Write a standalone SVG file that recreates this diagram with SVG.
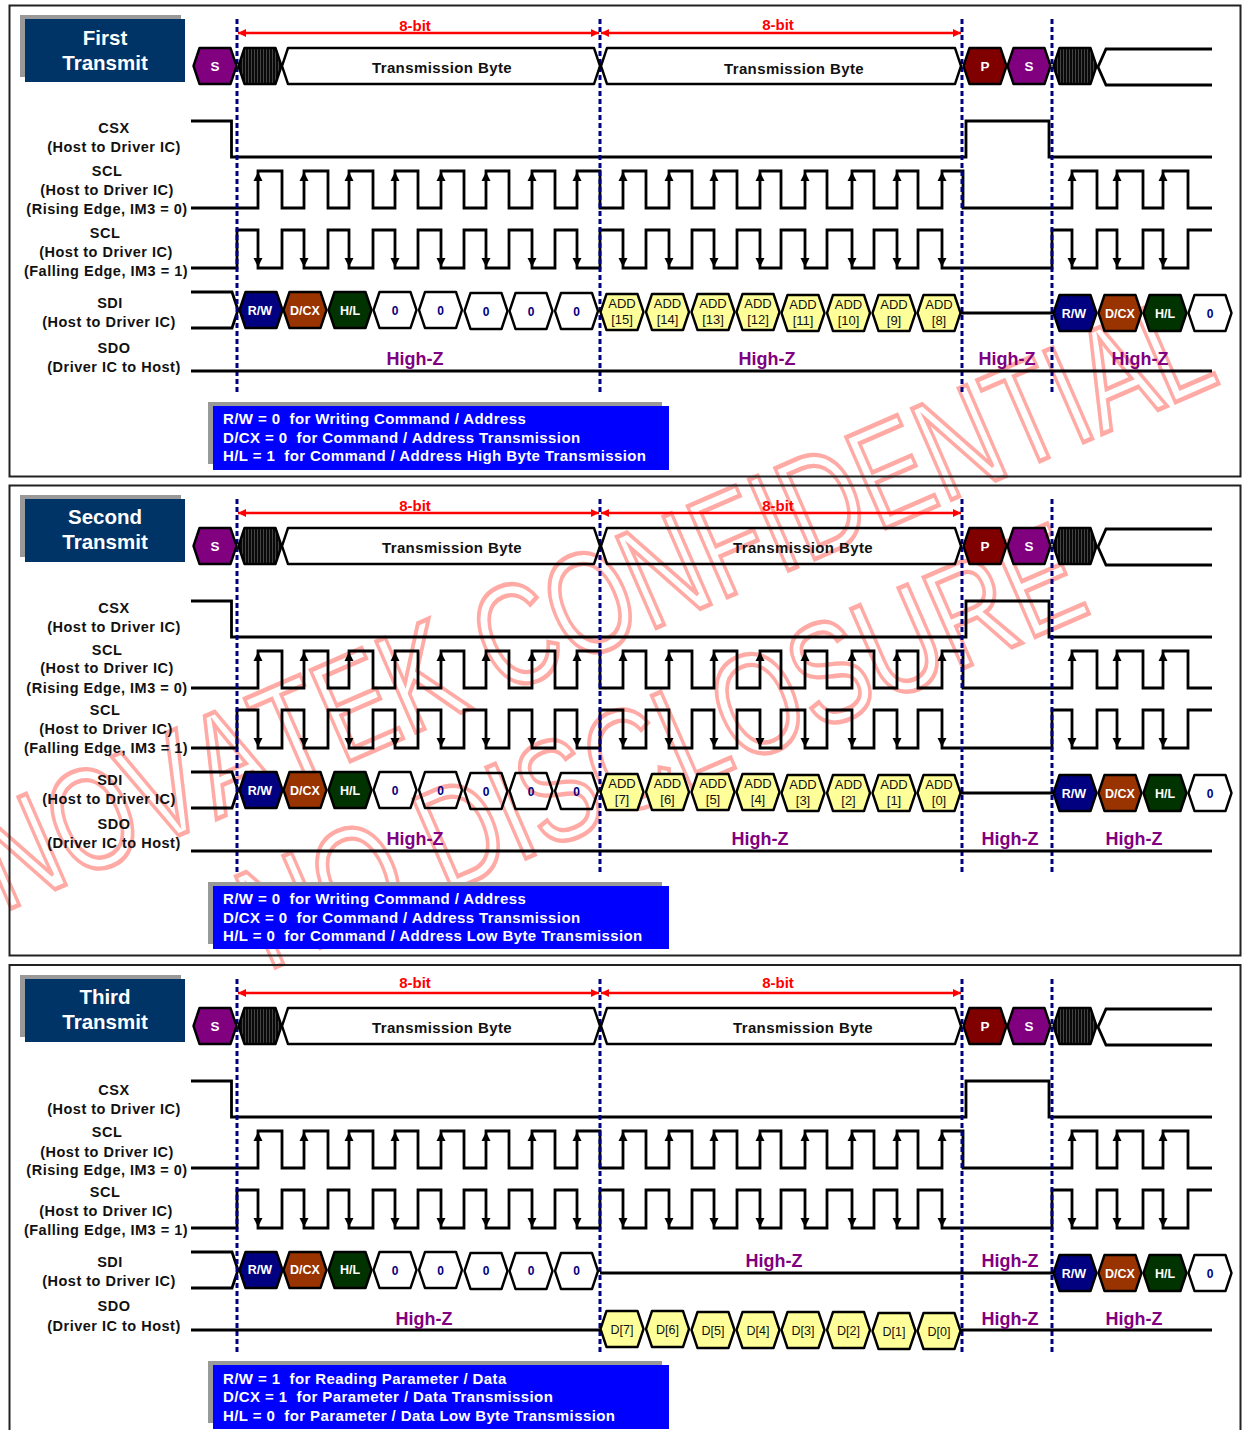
<svg xmlns="http://www.w3.org/2000/svg" width="1243" height="1430" viewBox="0 0 1243 1430">
<style>
text{font-family:"Liberation Sans",Arial,sans-serif;text-anchor:middle;white-space:pre;stroke:none}
.frame{fill:none;stroke:#222;stroke-width:2}
text.wm{font-size:144px;fill:none;stroke:#ffaaa4;stroke-width:4;vector-effect:non-scaling-stroke;text-anchor:start;font-kerning:none}
.w{fill:none;stroke:#000;stroke-width:2.8;stroke-linejoin:miter}
.dash{stroke:#000080;stroke-width:3;stroke-dasharray:5 3;fill:none}
.red{stroke:#f00;stroke-width:2.5;fill:none;marker-start:url(#rh);marker-end:url(#rh)}
.h{stroke:#000;stroke-width:2.4;stroke-linejoin:round}
.pu{fill:#800080}.ma{fill:#800000}.ha{fill:url(#hatch)}.na{fill:#000080}.br{fill:#993300}.gr{fill:#003300}.no{fill:none}.ye{fill:#ffff99}
.l{font-size:14.5px;font-weight:700;fill:#111;letter-spacing:.5px}
.t{font-size:15px;font-weight:700;fill:#111;letter-spacing:.4px}
.b{font-size:15px;font-weight:700;fill:#f00}
.z{font-size:18px;font-weight:700;fill:#800080}
.tt{font-size:20.5px;font-weight:700;fill:#fff}
.n{font-size:13.5px;font-weight:700;fill:#fff}
.c{font-size:12.5px;font-weight:700;fill:#fff}
.o{font-size:12px;font-weight:700;fill:#000080}
.a{font-size:13px;fill:#111}
.d{font-size:12.5px;fill:#111}
.i{font-size:15px;font-weight:700;fill:#fff;text-anchor:start;letter-spacing:.4px}
.gb{fill:#999}.tb{fill:#003366}.bb{fill:#00f}
</style>
<defs>
<pattern id="hatch" width="3" height="10" patternUnits="userSpaceOnUse"><rect width="3" height="10" fill="#0a0a0a"/><rect width="1" height="10" fill="#444"/></pattern>
<marker id="rh" viewBox="0 0 8 8" refX="8" refY="4" markerWidth="8" markerHeight="8" markerUnits="userSpaceOnUse" orient="auto-start-reverse"><path d="M0 0L8 4L0 8Z" fill="#f00"/></marker>
<polygon id="hx" points="-21.5,0 -15.5,-18 15.5,-18 21.5,0 15.5,18 -15.5,18"/>
<path id="au" d="M0 0L-4.5 9H4.5Z"/>
<path id="ad" d="M0 0L-4.5 -9H4.5Z"/>
<g id="waves">
<path class="w" d="M191 121H231.500V157H966V121H1049V157H1212"/>
<path class="w" d="M191 208H258V171H282V208H304V171H328V208H349V171H373V208H395V171H418V208H441V171H464V208H486V171H509V208H532V171H555V208H577V171H600V208H623V171H646V208H669V171H692V208H714V171H737V208H760V171H781V208H805V171H827V208H852V171H874V208H897V171H918V208H942V171H963V208H1072V171H1097V208H1117V171H1143V208H1163V171H1188V208H1212"/>
<path class="w" d="M191 268H237V230H258V268H282V230H304V268H328V230H349V268H373V230H395V268H418V230H441V268H464V230H486V268H509V230H532V268H555V230H577V268H600V230H623V268H646V230H669V268H692V230H714V268H737V230H760V268H781V230H805V268H827V230H852V268H874V230H897V268H918V230H942V268H1052V230H1072V268H1097V230H1117V268H1143V230H1163V268H1188V230H1212"/>
<path class="w" d="M1212 49H1106L1098 67L1106 85H1212"/>
<g id="ups"><use href="#au" x="258" y="172"/><use href="#au" x="304" y="172"/><use href="#au" x="349" y="172"/><use href="#au" x="395" y="172"/><use href="#au" x="441" y="172"/><use href="#au" x="486" y="172"/><use href="#au" x="532" y="172"/><use href="#au" x="577" y="172"/><use href="#au" x="623" y="172"/><use href="#au" x="669" y="172"/><use href="#au" x="714" y="172"/><use href="#au" x="760" y="172"/><use href="#au" x="805" y="172"/><use href="#au" x="852" y="172"/><use href="#au" x="897" y="172"/><use href="#au" x="942" y="172"/><use href="#au" x="1072" y="172"/><use href="#au" x="1117" y="172"/><use href="#au" x="1163" y="172"/></g>
<g id="downs"><use href="#ad" x="258" y="267"/><use href="#ad" x="304" y="267"/><use href="#ad" x="349" y="267"/><use href="#ad" x="395" y="267"/><use href="#ad" x="441" y="267"/><use href="#ad" x="486" y="267"/><use href="#ad" x="532" y="267"/><use href="#ad" x="577" y="267"/><use href="#ad" x="623" y="267"/><use href="#ad" x="669" y="267"/><use href="#ad" x="714" y="267"/><use href="#ad" x="760" y="267"/><use href="#ad" x="805" y="267"/><use href="#ad" x="852" y="267"/><use href="#ad" x="897" y="267"/><use href="#ad" x="942" y="267"/><use href="#ad" x="1072" y="267"/><use href="#ad" x="1117" y="267"/><use href="#ad" x="1163" y="267"/></g>
<path class="w" d="M191 292H232L238 310L232 328H191"/>
<line class="red" x1="238" y1="33" x2="599" y2="33"/>
<line class="red" x1="601" y1="33" x2="961" y2="33"/>
</g>
<g id="dashes"><path class="dash" d="M237 19V392M600 19V392M962 19V392M1052 19V392"/></g>
</defs>
<rect width="1243" height="1430" fill="#fff"/>
<g id="watermark">
<text class="wm" transform="translate(3 912) rotate(-23.500) scale(.745 1)">NOVATEK CONFIDENTIAL</text>
<text class="wm" transform="translate(267 971) rotate(-23.500) scale(.756 1)">NO DISCLOSURE</text>
</g>
<g id="frames">
<rect class="frame" x="9.500" y="5.500" width="1231" height="471"/>
<rect class="frame" x="9.500" y="485.500" width="1231" height="470"/>
<rect class="frame" x="9.500" y="965" width="1231" height="480"/>
</g>
<g id="connectors">
<use href="#waves"/>
<use href="#waves" transform="translate(0 480)"/>
<use href="#waves" transform="translate(0 960)"/>
<use href="#dashes"/>
<use href="#dashes" transform="translate(0 480)"/>
<use href="#dashes" transform="translate(0 960)"/>
<path class="w" d="M961 313H1054M191 371H1212"/>
<path class="w" d="M961 793H1054M191 851H1212"/>
<path class="w" d="M600 1273H1054M191 1330H602M961 1330H1212"/>
</g>

<g id="p1-title"><rect class="gb" x="20" y="15" width="161" height="62"/><rect class="tb" x="25" y="19" width="160" height="63"/><text class="tt" x="105" y="45">First</text><text class="tt" x="105" y="70">Transmit</text></g>
<g id="p1-bit1"><text class="b" x="415" y="31">8-bit</text></g>
<g id="p1-bit2"><text class="b" x="778" y="30">8-bit</text></g>
<g id="p1-s1" class="h pu"><use href="#hx" x="215" y="66"/><text class="n" x="215" y="71">S</text></g>
<g id="p1-x1" class="h ha"><use href="#hx" x="260" y="66"/></g>
<g id="p1-byte1"><polygon class="h no" points="282,66 288,48 594,48 600,66 594,84 288,84"/><text class="t" x="442" y="73">Transmission Byte</text></g>
<g id="p1-byte2"><polygon class="h no" points="601,66 607,48 955,48 961,66 955,84 607,84"/><text class="t" x="794" y="74">Transmission Byte</text></g>
<g id="p1-p" class="h ma"><use href="#hx" x="985" y="66"/><text class="n" x="985" y="71">P</text></g>
<g id="p1-s2" class="h pu"><use href="#hx" x="1029" y="66"/><text class="n" x="1029" y="71">S</text></g>
<g id="p1-x2" class="h ha"><use href="#hx" x="1075" y="66"/></g>
<g id="p1-labels">
<text class="l" x="114" y="133">CSX</text><text class="l" x="114" y="152">(Host to Driver IC)</text>
<text class="l" x="107" y="176">SCL</text><text class="l" x="107" y="195">(Host to Driver IC)</text><text class="l" x="107" y="214">(Rising Edge, IM3 = 0)</text>
<text class="l" x="105" y="238">SCL</text><text class="l" x="106" y="257">(Host to Driver IC)</text><text class="l" x="106" y="276">(Falling Edge, IM3 = 1)</text>
<text class="l" x="110" y="308">SDI</text><text class="l" x="109" y="327">(Host to Driver IC)</text>
<text class="l" x="114" y="353">SDO</text><text class="l" x="114" y="372">(Driver IC to Host)</text>
</g>
<g id="p1-rw" class="h na"><use href="#hx" x="261" y="310"/><text class="c" x="260" y="315">R/W</text></g>
<g id="p1-dcx" class="h br"><use href="#hx" x="305" y="310"/><text class="c" x="305" y="315">D/CX</text></g>
<g id="p1-hl" class="h gr"><use href="#hx" x="350" y="310"/><text class="c" x="350" y="315">H/L</text></g>
<g id="p1-b0" class="h no"><use href="#hx" x="395" y="310"/><text class="o" x="395" y="315">0</text></g>
<g id="p1-b1" class="h no"><use href="#hx" x="440.500" y="310"/><text class="o" x="440.500" y="315">0</text></g>
<g id="p1-b2" class="h no"><use href="#hx" x="486" y="311"/><text class="o" x="486" y="316">0</text></g>
<g id="p1-b3" class="h no"><use href="#hx" x="531" y="311"/><text class="o" x="531" y="316">0</text></g>
<g id="p1-b4" class="h no"><use href="#hx" x="576.500" y="311"/><text class="o" x="576.500" y="316">0</text></g>
<g id="p1-a15" class="h ye"><use href="#hx" x="622" y="312"/><text class="a" x="622" y="308">ADD</text><text class="a" x="622" y="324">[15]</text></g>
<g id="p1-a14" class="h ye"><use href="#hx" x="667.500" y="312"/><text class="a" x="667.500" y="308">ADD</text><text class="a" x="667.500" y="324">[14]</text></g>
<g id="p1-a13" class="h ye"><use href="#hx" x="713" y="312"/><text class="a" x="713" y="308">ADD</text><text class="a" x="713" y="324">[13]</text></g>
<g id="p1-a12" class="h ye"><use href="#hx" x="758" y="312"/><text class="a" x="758" y="308">ADD</text><text class="a" x="758" y="324">[12]</text></g>
<g id="p1-a11" class="h ye"><use href="#hx" x="803" y="313"/><text class="a" x="803" y="309">ADD</text><text class="a" x="803" y="325">[11]</text></g>
<g id="p1-a10" class="h ye"><use href="#hx" x="848.500" y="313"/><text class="a" x="848.500" y="309">ADD</text><text class="a" x="848.500" y="325">[10]</text></g>
<g id="p1-a9" class="h ye"><use href="#hx" x="894" y="313"/><text class="a" x="894" y="309">ADD</text><text class="a" x="894" y="325">[9]</text></g>
<g id="p1-a8" class="h ye"><use href="#hx" x="939" y="313"/><text class="a" x="939" y="309">ADD</text><text class="a" x="939" y="325">[8]</text></g>
<g id="p1-rw2" class="h na"><use href="#hx" x="1075" y="313"/><text class="c" x="1074" y="318">R/W</text></g>
<g id="p1-dcx2" class="h br"><use href="#hx" x="1120" y="313"/><text class="c" x="1120" y="318">D/CX</text></g>
<g id="p1-hl2" class="h gr"><use href="#hx" x="1165" y="313"/><text class="c" x="1165" y="318">H/L</text></g>
<g id="p1-b02" class="h no"><use href="#hx" x="1210" y="313"/><text class="o" x="1210" y="318">0</text></g>
<g id="p1-hz"><text class="z" x="415" y="365">High-Z</text><text class="z" x="767" y="365">High-Z</text><text class="z" x="1007" y="365">High-Z</text><text class="z" x="1140" y="365">High-Z</text></g>
<g id="p1-note"><rect class="gb" x="208" y="402" width="454" height="62"/><rect class="bb" x="213" y="406" width="456" height="64"/><text class="i" x="223" y="424">R/W = 0  for Writing Command / Address</text><text class="i" x="223" y="443">D/CX = 0  for Command / Address Transmission</text><text class="i" x="223" y="461">H/L = 1  for Command / Address High Byte Transmission</text></g>

<g id="p2-title"><rect class="gb" x="20" y="495" width="161" height="62"/><rect class="tb" x="25" y="499" width="160" height="63"/><text class="tt" x="105" y="524">Second</text><text class="tt" x="105" y="549">Transmit</text></g>
<g id="p2-bit1"><text class="b" x="415" y="511">8-bit</text></g>
<g id="p2-bit2"><text class="b" x="778" y="511">8-bit</text></g>
<g id="p2-s1" class="h pu"><use href="#hx" x="215" y="546"/><text class="n" x="215" y="551">S</text></g>
<g id="p2-x1" class="h ha"><use href="#hx" x="260" y="546"/></g>
<g id="p2-byte1"><polygon class="h no" points="282,546 288,528 594,528 600,546 594,564 288,564"/><text class="t" x="452" y="553">Transmission Byte</text></g>
<g id="p2-byte2"><polygon class="h no" points="601,546 607,528 955,528 961,546 955,564 607,564"/><text class="t" x="803" y="553">Transmission Byte</text></g>
<g id="p2-p" class="h ma"><use href="#hx" x="985" y="546"/><text class="n" x="985" y="551">P</text></g>
<g id="p2-s2" class="h pu"><use href="#hx" x="1029" y="546"/><text class="n" x="1029" y="551">S</text></g>
<g id="p2-x2" class="h ha"><use href="#hx" x="1075" y="546"/></g>
<g id="p2-labels">
<text class="l" x="114" y="613">CSX</text><text class="l" x="114" y="632">(Host to Driver IC)</text>
<text class="l" x="107" y="655">SCL</text><text class="l" x="107" y="673">(Host to Driver IC)</text><text class="l" x="107" y="693">(Rising Edge, IM3 = 0)</text>
<text class="l" x="105" y="715">SCL</text><text class="l" x="106" y="734">(Host to Driver IC)</text><text class="l" x="106" y="753">(Falling Edge, IM3 = 1)</text>
<text class="l" x="110" y="785">SDI</text><text class="l" x="109" y="804">(Host to Driver IC)</text>
<text class="l" x="114" y="829">SDO</text><text class="l" x="114" y="848">(Driver IC to Host)</text>
</g>
<g id="p2-rw" class="h na"><use href="#hx" x="261" y="790"/><text class="c" x="260" y="795">R/W</text></g>
<g id="p2-dcx" class="h br"><use href="#hx" x="305" y="790"/><text class="c" x="305" y="795">D/CX</text></g>
<g id="p2-hl" class="h gr"><use href="#hx" x="350" y="790"/><text class="c" x="350" y="795">H/L</text></g>
<g id="p2-b0" class="h no"><use href="#hx" x="395" y="790"/><text class="o" x="395" y="795">0</text></g>
<g id="p2-b1" class="h no"><use href="#hx" x="440.500" y="790"/><text class="o" x="440.500" y="795">0</text></g>
<g id="p2-b2" class="h no"><use href="#hx" x="486" y="791"/><text class="o" x="486" y="796">0</text></g>
<g id="p2-b3" class="h no"><use href="#hx" x="531" y="791"/><text class="o" x="531" y="796">0</text></g>
<g id="p2-b4" class="h no"><use href="#hx" x="576.500" y="791"/><text class="o" x="576.500" y="796">0</text></g>
<g id="p2-a7" class="h ye"><use href="#hx" x="622" y="792"/><text class="a" x="622" y="788">ADD</text><text class="a" x="622" y="804">[7]</text></g>
<g id="p2-a6" class="h ye"><use href="#hx" x="667.500" y="792"/><text class="a" x="667.500" y="788">ADD</text><text class="a" x="667.500" y="804">[6]</text></g>
<g id="p2-a5" class="h ye"><use href="#hx" x="713" y="792"/><text class="a" x="713" y="788">ADD</text><text class="a" x="713" y="804">[5]</text></g>
<g id="p2-a4" class="h ye"><use href="#hx" x="758" y="792"/><text class="a" x="758" y="788">ADD</text><text class="a" x="758" y="804">[4]</text></g>
<g id="p2-a3" class="h ye"><use href="#hx" x="803" y="793"/><text class="a" x="803" y="789">ADD</text><text class="a" x="803" y="805">[3]</text></g>
<g id="p2-a2" class="h ye"><use href="#hx" x="848.500" y="793"/><text class="a" x="848.500" y="789">ADD</text><text class="a" x="848.500" y="805">[2]</text></g>
<g id="p2-a1" class="h ye"><use href="#hx" x="894" y="793"/><text class="a" x="894" y="789">ADD</text><text class="a" x="894" y="805">[1]</text></g>
<g id="p2-a0" class="h ye"><use href="#hx" x="939" y="793"/><text class="a" x="939" y="789">ADD</text><text class="a" x="939" y="805">[0]</text></g>
<g id="p2-rw2" class="h na"><use href="#hx" x="1075" y="793"/><text class="c" x="1074" y="798">R/W</text></g>
<g id="p2-dcx2" class="h br"><use href="#hx" x="1120" y="793"/><text class="c" x="1120" y="798">D/CX</text></g>
<g id="p2-hl2" class="h gr"><use href="#hx" x="1165" y="793"/><text class="c" x="1165" y="798">H/L</text></g>
<g id="p2-b02" class="h no"><use href="#hx" x="1210" y="793"/><text class="o" x="1210" y="798">0</text></g>
<g id="p2-hz"><text class="z" x="415" y="845">High-Z</text><text class="z" x="760" y="845">High-Z</text><text class="z" x="1010" y="845">High-Z</text><text class="z" x="1134" y="845">High-Z</text></g>
<g id="p2-note"><rect class="gb" x="208" y="882" width="454" height="62"/><rect class="bb" x="213" y="886" width="456" height="63"/><text class="i" x="223" y="904">R/W = 0  for Writing Command / Address</text><text class="i" x="223" y="923">D/CX = 0  for Command / Address Transmission</text><text class="i" x="223" y="941">H/L = 0  for Command / Address Low Byte Transmission</text></g>

<g id="p3-title"><rect class="gb" x="20" y="975" width="161" height="62"/><rect class="tb" x="25" y="979" width="160" height="63"/><text class="tt" x="105" y="1004">Third</text><text class="tt" x="105" y="1029">Transmit</text></g>
<g id="p3-bit1"><text class="b" x="415" y="988">8-bit</text></g>
<g id="p3-bit2"><text class="b" x="778" y="988">8-bit</text></g>
<g id="p3-s1" class="h pu"><use href="#hx" x="215" y="1026"/><text class="n" x="215" y="1031">S</text></g>
<g id="p3-x1" class="h ha"><use href="#hx" x="260" y="1026"/></g>
<g id="p3-byte1"><polygon class="h no" points="282,1026 288,1008 594,1008 600,1026 594,1044 288,1044"/><text class="t" x="442" y="1033">Transmission Byte</text></g>
<g id="p3-byte2"><polygon class="h no" points="601,1026 607,1008 955,1008 961,1026 955,1044 607,1044"/><text class="t" x="803" y="1033">Transmission Byte</text></g>
<g id="p3-p" class="h ma"><use href="#hx" x="985" y="1026"/><text class="n" x="985" y="1031">P</text></g>
<g id="p3-s2" class="h pu"><use href="#hx" x="1029" y="1026"/><text class="n" x="1029" y="1031">S</text></g>
<g id="p3-x2" class="h ha"><use href="#hx" x="1075" y="1026"/></g>
<g id="p3-labels">
<text class="l" x="114" y="1095">CSX</text><text class="l" x="114" y="1114">(Host to Driver IC)</text>
<text class="l" x="107" y="1137">SCL</text><text class="l" x="107" y="1157">(Host to Driver IC)</text><text class="l" x="107" y="1175">(Rising Edge, IM3 = 0)</text>
<text class="l" x="105" y="1197">SCL</text><text class="l" x="106" y="1216">(Host to Driver IC)</text><text class="l" x="106" y="1235">(Falling Edge, IM3 = 1)</text>
<text class="l" x="110" y="1267">SDI</text><text class="l" x="109" y="1286">(Host to Driver IC)</text>
<text class="l" x="114" y="1311">SDO</text><text class="l" x="114" y="1331">(Driver IC to Host)</text>
</g>
<g id="p3-rw" class="h na"><use href="#hx" x="261" y="1270"/><text class="c" x="260" y="1274">R/W</text></g>
<g id="p3-dcx" class="h br"><use href="#hx" x="305" y="1270"/><text class="c" x="305" y="1274">D/CX</text></g>
<g id="p3-hl" class="h gr"><use href="#hx" x="350" y="1270"/><text class="c" x="350" y="1274">H/L</text></g>
<g id="p3-b0" class="h no"><use href="#hx" x="395" y="1270"/><text class="o" x="395" y="1275">0</text></g>
<g id="p3-b1" class="h no"><use href="#hx" x="440.500" y="1270"/><text class="o" x="440.500" y="1275">0</text></g>
<g id="p3-b2" class="h no"><use href="#hx" x="486" y="1271"/><text class="o" x="486" y="1275">0</text></g>
<g id="p3-b3" class="h no"><use href="#hx" x="531" y="1271"/><text class="o" x="531" y="1275">0</text></g>
<g id="p3-b4" class="h no"><use href="#hx" x="576.500" y="1271"/><text class="o" x="576.500" y="1275">0</text></g>
<g id="p3-d7" class="h ye"><use href="#hx" x="622" y="1329"/><text class="d" x="622" y="1334">D[7]</text></g>
<g id="p3-d6" class="h ye"><use href="#hx" x="667.500" y="1329"/><text class="d" x="667.500" y="1334">D[6]</text></g>
<g id="p3-d5" class="h ye"><use href="#hx" x="713" y="1330"/><text class="d" x="713" y="1335">D[5]</text></g>
<g id="p3-d4" class="h ye"><use href="#hx" x="758" y="1330"/><text class="d" x="758" y="1335">D[4]</text></g>
<g id="p3-d3" class="h ye"><use href="#hx" x="803" y="1330"/><text class="d" x="803" y="1335">D[3]</text></g>
<g id="p3-d2" class="h ye"><use href="#hx" x="848.500" y="1330"/><text class="d" x="848.500" y="1335">D[2]</text></g>
<g id="p3-d1" class="h ye"><use href="#hx" x="894" y="1331"/><text class="d" x="894" y="1336">D[1]</text></g>
<g id="p3-d0" class="h ye"><use href="#hx" x="939" y="1331"/><text class="d" x="939" y="1336">D[0]</text></g>
<g id="p3-rw2" class="h na"><use href="#hx" x="1075" y="1273"/><text class="c" x="1074" y="1278">R/W</text></g>
<g id="p3-dcx2" class="h br"><use href="#hx" x="1120" y="1273"/><text class="c" x="1120" y="1278">D/CX</text></g>
<g id="p3-hl2" class="h gr"><use href="#hx" x="1165" y="1273"/><text class="c" x="1165" y="1278">H/L</text></g>
<g id="p3-b02" class="h no"><use href="#hx" x="1210" y="1273"/><text class="o" x="1210" y="1278">0</text></g>
<g id="p3-hz"><text class="z" x="774" y="1267">High-Z</text><text class="z" x="1010" y="1267">High-Z</text><text class="z" x="424" y="1325">High-Z</text><text class="z" x="1010" y="1325">High-Z</text><text class="z" x="1134" y="1325">High-Z</text></g>
<g id="p3-note"><rect class="gb" x="208" y="1361" width="454" height="62"/><rect class="bb" x="213" y="1365" width="456" height="64"/><text class="i" x="223" y="1384">R/W = 1  for Reading Parameter / Data</text><text class="i" x="223" y="1402">D/CX = 1  for Parameter / Data Transmission</text><text class="i" x="223" y="1421">H/L = 0  for Parameter / Data Low Byte Transmission</text></g>
</svg>
